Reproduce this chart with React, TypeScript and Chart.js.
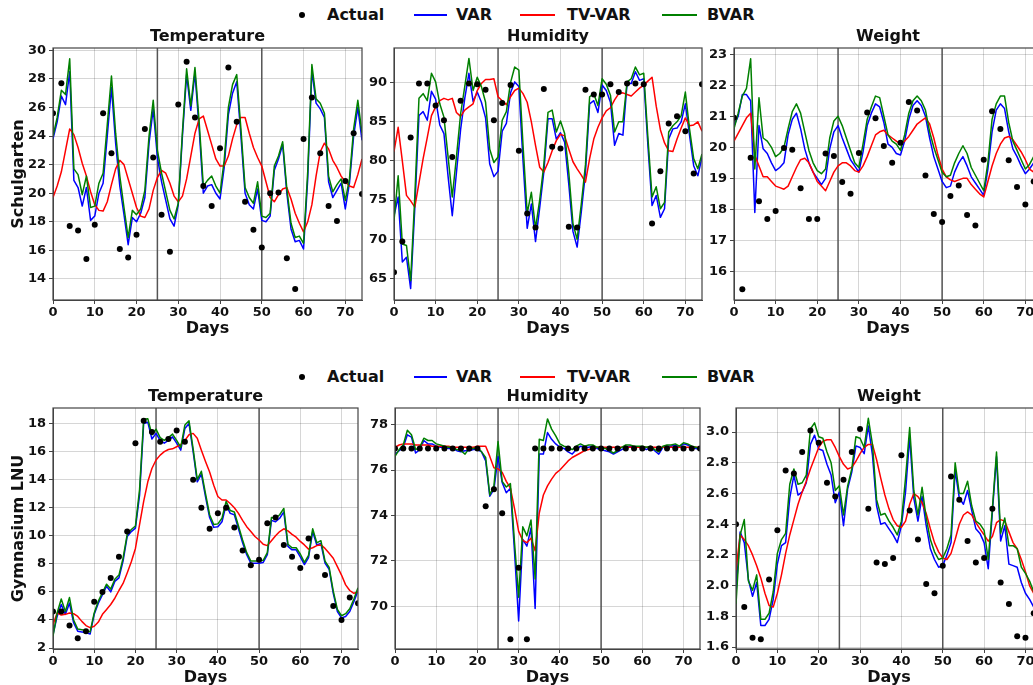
import React, { useEffect, useRef } from "react";
import { Chart, registerables } from "chart.js";

Chart.register(...registerables);

const FONT = "'DejaVu Sans', 'Liberation Sans', Arial, sans-serif";
const INK = "#111111";

// ---------- shared axes / categories ----------
const ACTUAL_DAYS = [0, 2, 4, 6, 8, 10, 12, 14, 16, 18, 20, 22, 24, 26, 28, 30, 32, 34, 36, 38, 40, 42, 44, 46, 48, 50, 52, 54, 56, 58, 60, 62, 64, 66, 68, 70, 72, 74];
const X_TICKS = [0, 10, 20, 30, 40, 50, 60, 70];
const SPLIT_DAYS = [25, 50];
const SERIES_NAMES = ["Actual", "VAR", "TV-VAR", "BVAR"];
const SERIES_COLORS = ["#000000", "#0000ff", "#ff0000", "#008000"];
const ROW_NAMES = ["Schulgarten", "Gymnasium LNU"];
const VAR_TITLES = ["Temperature", "Humidity", "Weight"];

// ---------- Schulgarten: Temperature ----------
const S_TEMP_TICKS = [14, 16, 18, 20, 22, 24, 26, 28, 30];
const S_TEMP_ACT = [25.6, 27.7, 17.7, 17.4, 15.4, 17.8, 25.6, 22.8, 16.1, 15.5, 17.1, 24.5, 22.5, 18.5, 15.9, 26.2, 29.2, 25.3, 20.5, 19.1, 23.15, 28.8, 25.0, 19.4, 17.45, 16.2, 20.0, 20.05, 15.45, 13.3, 23.8, 26.7, 22.8, 19.1, 18.05, 20.85, 24.2, 19.95];
const S_TEMP_VAR = [23.8, 25.0, 26.8, 26.2, 28.5, 20.9, 20.4, 19.1, 20.4, 18.1, 18.4, 20.0, 20.7, 24.0, 27.4, 23.5, 20.5, 18.5, 16.4, 18.3, 18.0, 18.6, 19.7, 23.5, 25.9, 22.5, 20.8, 19.5, 18.2, 17.7, 19.2, 24.0, 28.3, 25.8, 28.4, 24.5, 20.0, 20.5, 20.6, 20.0, 19.6, 21.8, 25.5, 27.0, 27.8, 24.0, 20.0, 19.2, 18.9, 20.3, 18.1, 18.0, 18.4, 21.6, 22.4, 23.4, 20.0, 17.5, 16.6, 16.7, 16.1, 21.0, 28.6, 26.3, 25.9, 25.3, 20.8, 19.7, 20.2, 20.7, 18.9, 20.7, 24.0, 26.0, 23.7];
const S_TEMP_TV = [19.7, 20.5, 21.5, 23.0, 24.5, 24.1, 23.2, 22.1, 21.2, 20.1, 19.2, 18.8, 18.75, 19.4, 20.6, 21.7, 22.3, 22.0, 21.0, 20.0, 19.0, 18.4, 18.3, 18.9, 20.2, 21.1, 21.6, 21.4, 20.7, 19.8, 19.4, 19.8, 21.0, 22.6, 24.2, 25.2, 25.4, 24.4, 23.4, 22.4, 21.9, 21.9, 22.6, 23.8, 24.8, 25.3, 25.3, 24.2, 23.2, 22.5, 21.9, 20.8, 19.7, 19.4, 19.9, 20.3, 20.4, 19.6, 18.6, 17.9, 17.3, 18.0, 19.2, 21.2, 22.9, 23.5, 23.1, 22.3, 21.8, 21.2, 20.8, 20.5, 20.4, 21.3, 22.4];
const S_TEMP_BVAR = [24.0, 25.3, 27.2, 26.9, 29.4, 21.7, 21.3, 19.9, 21.2, 19.0, 19.1, 20.7, 21.4, 24.8, 28.2, 24.2, 21.2, 19.0, 16.9, 18.8, 18.5, 18.9, 20.2, 24.0, 26.5, 23.0, 21.4, 20.1, 18.8, 18.2, 19.3, 24.3, 28.7, 26.1, 28.8, 25.0, 20.5, 20.9, 21.2, 20.5, 20.0, 22.3, 26.0, 27.6, 28.3, 24.5, 20.4, 19.7, 19.3, 20.8, 18.4, 18.3, 18.6, 21.9, 22.6, 23.6, 20.3, 17.9, 16.9, 17.0, 16.5, 21.5, 29.0, 26.6, 26.3, 25.6, 21.2, 20.1, 20.6, 21.0, 19.5, 21.0, 24.5, 26.5, 24.2];

// ---------- Schulgarten: Humidity ----------
const S_HUM_TICKS = [65, 70, 75, 80, 85, 90];
const S_HUM_ACT = [65.8, 69.7, 83.0, 89.9, 89.9, 87.1, 85.2, 80.5, 87.7, 89.9, 89.8, 89.1, 85.2, 87.4, 89.7, 81.3, 73.3, 71.5, 89.2, 81.8, 81.6, 71.6, 71.5, 89.1, 88.5, 88.5, 89.8, 88.8, 89.9, 89.9, 89.8, 72.0, 78.7, 84.8, 85.7, 83.8, 78.4, 89.8];
const S_HUM_VAR = [73.0, 75.4, 67.1, 67.7, 63.7, 74.0, 85.8, 86.3, 85.2, 88.9, 87.9, 84.6, 83.5, 78.0, 73.0, 78.5, 84.0, 88.0, 91.2, 87.6, 88.8, 87.5, 85.5, 79.6, 78.0, 78.7, 83.8, 84.8, 88.7, 90.1, 89.5, 80.0, 71.4, 74.5, 69.7, 74.0, 78.6, 85.4, 85.4, 82.8, 83.6, 82.4, 77.0, 71.0, 69.0, 73.5, 78.5, 87.3, 87.7, 86.2, 89.7, 89.0, 87.5, 82.0, 83.5, 83.3, 89.9, 89.9, 91.4, 90.3, 90.5, 82.0, 74.3, 75.6, 72.8, 73.9, 82.8, 84.1, 84.2, 85.0, 87.3, 83.3, 79.4, 78.1, 80.5];
const S_HUM_TV = [81.2, 84.3, 80.0, 75.6, 74.9, 74.1, 77.2, 80.3, 83.0, 85.8, 86.9, 87.7, 88.0, 87.8, 88.0, 86.2, 85.7, 86.5, 86.9, 87.3, 89.0, 89.9, 90.4, 90.4, 90.5, 88.2, 87.7, 87.2, 88.2, 89.0, 89.3, 88.6, 87.5, 85.0, 82.0, 79.2, 78.6, 79.8, 81.3, 82.6, 83.4, 83.2, 81.5, 79.9, 79.0, 78.2, 77.3, 80.3, 82.8, 84.3, 85.5, 86.4, 86.8, 87.8, 88.6, 88.7, 88.5, 88.3, 88.8, 89.3, 89.7, 90.2, 90.7, 87.0, 84.0, 82.3, 81.3, 81.2, 82.8, 84.2, 85.5, 84.5, 84.6, 85.0, 83.8];
const S_HUM_BVAR = [72.4, 78.1, 69.4, 69.2, 64.7, 75.5, 88.0, 88.6, 87.7, 91.2, 90.1, 87.3, 85.6, 80.5, 75.4, 80.5, 86.0, 89.5, 93.1, 89.0, 90.7, 89.5, 87.5, 81.5, 79.8, 80.5, 85.2, 86.3, 90.0, 92.0, 91.6, 82.0, 73.3, 76.0, 71.4, 75.0, 79.5, 86.2, 86.5, 83.7, 85.1, 83.5, 78.5, 72.0, 70.0, 74.5, 79.5, 88.2, 88.6, 87.1, 90.5, 89.8, 88.4, 83.7, 85.0, 85.0, 90.1, 90.5, 92.0, 91.0, 91.2, 83.0, 75.4, 76.7, 73.9, 74.7, 83.7, 84.5, 85.0, 85.8, 88.8, 84.1, 80.3, 79.0, 80.9];

// ---------- Schulgarten: Weight ----------
const S_W_TICKS = [16, 17, 18, 19, 20, 21, 22, 23];
const S_W_ACT = [20.95, 15.43, 19.66, 18.26, 17.69, 17.95, 19.98, 19.92, 18.68, 17.69, 17.69, 19.8, 19.72, 18.88, 18.5, 19.82, 21.12, 20.94, 20.04, 19.5, 20.15, 21.46, 21.19, 19.09, 17.85, 17.59, 18.43, 18.77, 17.82, 17.48, 19.6, 21.16, 20.59, 19.58, 18.72, 18.16, 18.9, 19.5];
const S_W_VAR = [20.7, 21.0, 21.7, 21.7, 21.5, 17.9, 20.7, 19.95, 19.8, 19.5, 19.25, 19.35, 19.5, 20.4, 20.9, 21.1, 20.6, 19.95, 19.5, 19.2, 19.0, 18.8, 19.0, 19.95, 20.5, 20.7, 20.3, 19.95, 19.6, 19.4, 19.2, 19.85, 20.7, 21.1, 21.4, 21.3, 20.8, 20.1, 20.0, 19.8, 19.75, 20.2, 20.9, 21.35, 21.5, 21.35, 21.0, 20.3, 19.7, 19.3, 18.9, 18.7, 18.75, 19.2, 19.5, 19.7, 19.4, 19.05, 18.85, 18.65, 18.45, 19.3, 20.5, 21.2, 21.4, 21.25, 20.5, 19.95, 19.7, 19.4, 19.15, 19.3, 19.5, 19.8, 20.0];
const S_W_TV = [20.2, 20.45, 20.7, 20.95, 21.1, 19.75, 19.4, 19.05, 19.05, 18.9, 18.75, 18.7, 18.65, 18.75, 19.05, 19.35, 19.6, 19.65, 19.5, 19.2, 18.9, 18.75, 18.6, 18.9, 19.2, 19.4, 19.5, 19.5, 19.4, 19.25, 19.2, 19.4, 19.7, 20.05, 20.4, 20.5, 20.55, 20.4, 20.3, 20.2, 20.1, 20.2, 20.35, 20.55, 20.75, 20.85, 20.95, 20.75, 20.3, 19.75, 19.3, 19.05, 18.95, 18.9, 18.95, 19.0, 19.0, 18.8, 18.65, 18.5, 18.4, 18.9, 19.4, 19.8, 20.1, 20.3, 20.35, 20.25, 20.05, 19.85, 19.6, 19.3, 19.2, 19.3, 19.5];
const S_W_BVAR = [20.6, 21.1, 21.65, 21.9, 22.85, 19.3, 21.6, 20.3, 20.2, 20.0, 19.7, 19.8, 20.0, 20.6, 21.15, 21.4, 21.1, 20.5, 19.9, 19.5, 19.25, 19.15, 19.3, 20.3, 20.85, 21.0, 20.7, 20.3, 19.9, 19.5, 19.35, 20.1, 20.9, 21.3, 21.65, 21.6, 21.0, 20.4, 20.2, 20.1, 19.9, 20.4, 21.1, 21.5, 21.65, 21.5, 21.2, 20.5, 20.0, 19.6, 19.2, 19.05, 19.1, 19.5, 19.8, 20.05, 19.8, 19.35, 19.1, 18.85, 18.6, 19.5, 20.9, 21.4, 21.65, 21.65, 20.8, 20.2, 19.9, 19.6, 19.3, 19.45, 19.7, 20.0, 20.2];

// ---------- Gymnasium LNU: Temperature ----------
const G_TEMP_TICKS = [2, 4, 6, 8, 10, 12, 14, 16, 18];
const G_TEMP_ACT = [4.6, 4.6, 3.6, 2.7, 3.2, 5.3, 6.0, 7.0, 8.5, 10.3, 16.6, 18.2, 17.4, 16.7, 16.9, 17.5, 16.7, 14.0, 12.0, 10.5, 11.6, 12.0, 10.6, 8.95, 7.9, 8.3, 10.9, 11.3, 9.35, 8.5, 7.7, 9.8, 8.5, 7.2, 5.0, 4.0, 5.6, 5.2];
const G_TEMP_VAR = [2.95, 4.25, 5.1, 4.4, 5.2, 3.8, 3.2, 3.15, 3.1, 3.0, 4.4, 5.2, 5.8, 6.4, 6.0, 6.75, 7.0, 8.2, 9.95, 10.3, 10.55, 12.9, 18.0, 18.1, 16.9, 17.3, 16.8, 16.6, 16.8, 17.05, 16.6, 16.1, 17.65, 18.0, 16.0, 13.85, 14.4, 12.8, 11.3, 10.6, 10.65, 11.0, 12.2, 11.6, 11.5, 10.5, 9.5, 8.65, 8.05, 8.05, 8.05, 8.1, 8.65, 11.1, 11.0, 11.25, 11.7, 9.25, 9.0, 9.0, 8.5, 7.95, 8.45, 10.3, 9.35, 9.45, 8.05, 7.6, 5.9, 4.6, 4.15, 4.25, 4.6, 5.3, 6.1];
const G_TEMP_TV = [3.65, 4.5, 4.35, 4.4, 4.5, 4.45, 4.25, 3.9, 3.6, 3.45, 3.55, 3.85, 4.4, 4.75, 5.1, 5.55, 6.1, 6.6, 7.35, 8.15, 9.1, 10.8, 12.45, 13.85, 14.8, 15.4, 15.75, 16.0, 16.15, 16.2, 16.35, 16.5, 16.8, 17.2, 17.3, 16.95, 16.1, 15.3, 14.55, 13.6, 12.8, 12.55, 12.55, 12.3, 12.0, 11.6, 11.1, 10.65, 10.3, 9.95, 9.7, 9.4, 9.3, 9.65, 10.0, 10.3, 10.5, 10.35, 10.1, 9.9, 9.6, 9.35, 9.05, 9.15, 9.3, 9.35, 9.1, 8.75, 8.4, 7.8, 7.2, 6.5, 6.1, 5.9, 6.0];
const G_TEMP_BVAR = [2.85, 4.5, 5.5, 4.6, 5.6, 4.0, 3.35, 3.3, 3.25, 3.15, 4.5, 5.35, 5.95, 6.55, 6.2, 6.9, 7.2, 8.4, 10.1, 10.45, 10.7, 13.3, 18.3, 18.35, 17.2, 17.6, 17.0, 16.8, 17.0, 17.25, 16.8, 16.3, 17.9, 18.2, 16.2, 14.0, 14.6, 13.0, 11.5, 10.8, 10.85, 11.25, 12.45, 11.8, 11.7, 10.7, 9.7, 8.8, 8.2, 8.2, 8.2, 8.25, 8.8, 11.3, 11.25, 11.5, 11.95, 9.4, 9.15, 9.15, 8.7, 8.1, 8.6, 10.5, 9.5, 9.65, 8.2, 7.75, 6.05, 4.75, 4.3, 4.45, 4.8, 5.5, 6.3];

// ---------- Gymnasium LNU: Humidity ----------
const G_HUM_TICKS = [70, 72, 74, 76, 78];
const G_HUM_ACT = [76.95, 76.95, 76.95, 76.95, 76.95, 76.95, 76.95, 76.95, 76.95, 76.95, 76.95, 74.4, 75.15, 74.1, 68.55, 71.7, 68.55, 76.95, 76.95, 76.95, 76.95, 76.95, 76.95, 76.95, 76.95, 76.95, 76.95, 76.95, 76.95, 76.95, 76.95, 76.95, 76.95, 76.95, 76.95, 76.95, 76.95, 76.95];
const G_HUM_VAR = [76.7, 76.85, 77.0, 77.55, 77.45, 76.75, 76.9, 77.3, 77.15, 77.15, 77.05, 77.0, 77.0, 76.95, 76.95, 76.85, 76.8, 76.85, 76.85, 76.9, 76.9, 76.8, 76.4, 74.85, 75.15, 76.6, 75.45, 75.0, 75.2, 72.4, 69.35, 72.95, 72.65, 73.45, 69.9, 76.7, 76.7, 77.65, 77.35, 77.15, 77.0, 76.95, 76.8, 76.7, 76.9, 77.05, 77.0, 77.0, 77.05, 76.95, 76.9, 76.85, 76.8, 76.7, 76.8, 76.9, 77.0, 77.05, 77.0, 77.0, 77.0, 76.9, 77.0, 76.85, 76.7, 77.0, 77.05, 77.05, 77.1, 77.0, 77.15, 77.1, 77.0, 76.95, 76.9];
const G_HUM_TV = [77.0, 77.1, 77.15, 77.15, 77.15, 77.1, 77.1, 77.1, 77.1, 77.05, 77.05, 77.05, 77.05, 77.05, 77.0, 77.0, 77.0, 77.0, 77.0, 77.0, 77.05, 77.05, 77.05, 76.6, 76.1, 76.05, 75.9, 75.5, 75.2, 74.3, 73.3, 72.9, 72.8, 73.0, 72.45, 74.1, 74.9, 75.3, 75.6, 75.85, 76.0, 76.2, 76.4, 76.55, 76.65, 76.75, 76.85, 76.9, 76.95, 77.0, 77.0, 77.0, 77.0, 77.0, 77.0, 77.0, 77.0, 77.0, 77.0, 77.0, 77.0, 77.0, 77.0, 77.0, 77.0, 77.0, 77.0, 77.0, 77.0, 77.0, 77.0, 77.0, 77.0, 77.0, 77.0];
const G_HUM_BVAR = [76.6, 76.9, 77.1, 77.75, 77.55, 76.9, 77.0, 77.4, 77.3, 77.3, 77.15, 77.1, 77.05, 77.0, 77.0, 76.9, 76.85, 76.7, 76.95, 76.95, 77.0, 76.8, 76.55, 74.9, 75.3, 77.25, 75.5, 75.25, 75.4, 72.8, 70.4, 73.5, 73.1, 73.8, 71.2, 77.35, 77.3, 78.25, 77.8, 77.5, 77.15, 77.05, 77.0, 76.9, 77.05, 77.15, 77.05, 77.1, 77.1, 77.0, 77.0, 76.95, 76.85, 76.75, 76.85, 77.0, 77.1, 77.1, 77.05, 77.05, 77.05, 77.0, 77.05, 76.9, 76.8, 77.05, 77.1, 77.1, 77.15, 77.05, 77.2, 77.15, 77.05, 77.0, 76.95];

// ---------- Gymnasium LNU: Weight ----------
const G_W_TICKS = [1.6, 1.8, 2.0, 2.2, 2.4, 2.6, 2.8, 3.0];
const G_W_ACT = [2.40, 1.86, 1.66, 1.65, 2.04, 2.36, 2.75, 2.73, 2.87, 3.01, 2.93, 2.67, 2.58, 2.69, 2.87, 3.02, 2.50, 2.15, 2.14, 2.18, 2.85, 2.49, 2.30, 2.01, 1.95, 2.13, 2.71, 2.56, 2.29, 2.15, 2.18, 2.50, 2.02, 1.88, 1.67, 1.66, 1.82, 1.75];
const G_W_VAR = [1.95, 2.35, 2.28, 2.04, 1.93, 2.02, 1.74, 1.74, 1.78, 1.91, 2.14, 2.26, 2.28, 2.57, 2.72, 2.59, 2.61, 2.67, 2.92, 2.98, 2.89, 2.88, 2.79, 2.72, 2.54, 2.61, 2.39, 2.63, 2.74, 2.91, 2.90, 2.86, 3.04, 2.85, 2.52, 2.40, 2.41, 2.37, 2.33, 2.28, 2.39, 2.61, 2.97, 2.57, 2.42, 2.58, 2.39, 2.24, 2.17, 2.12, 2.13, 2.20, 2.28, 2.75, 2.57, 2.53, 2.62, 2.49, 2.37, 2.34, 2.28, 2.11, 2.48, 2.84, 2.29, 2.39, 2.14, 2.13, 2.12, 2.02, 1.95, 1.91, 1.86, 1.84, 1.82];
const G_W_TV = [2.10, 2.33, 2.30, 2.26, 2.20, 2.13, 2.05, 1.95, 1.87, 1.86, 1.95, 2.07, 2.21, 2.33, 2.43, 2.53, 2.61, 2.68, 2.76, 2.83, 2.90, 2.94, 2.95, 2.95, 2.90, 2.84, 2.79, 2.76, 2.77, 2.81, 2.86, 2.90, 2.92, 2.92, 2.82, 2.70, 2.59, 2.50, 2.43, 2.39, 2.38, 2.42, 2.53, 2.60, 2.58, 2.54, 2.47, 2.37, 2.28, 2.22, 2.18, 2.17, 2.21, 2.30, 2.40, 2.46, 2.48, 2.46, 2.41, 2.37, 2.33, 2.29, 2.32, 2.41, 2.43, 2.42, 2.35, 2.28, 2.24, 2.17, 2.09, 2.00, 1.95, 1.93, 1.91];
const G_W_BVAR = [1.88, 2.33, 2.43, 2.03, 1.97, 2.07, 1.78, 1.78, 1.82, 1.96, 2.21, 2.30, 2.34, 2.66, 2.76, 2.66, 2.67, 2.72, 3.02, 3.06, 2.97, 2.96, 2.87, 2.80, 2.62, 2.65, 2.46, 2.65, 2.76, 2.97, 2.96, 2.90, 3.09, 2.92, 2.56, 2.46, 2.47, 2.42, 2.38, 2.33, 2.42, 2.70, 3.03, 2.62, 2.46, 2.64, 2.44, 2.30, 2.22, 2.17, 2.18, 2.24, 2.33, 2.80, 2.60, 2.60, 2.68, 2.52, 2.42, 2.40, 2.36, 2.17, 2.50, 2.87, 2.34, 2.44, 2.26, 2.26, 2.24, 2.12, 2.08, 2.03, 1.96, 1.93, 1.92];

type PanelCfg = {
  title: string; yLabel: string | null; ticks: number[]; dec: number; yMin: number; yMax: number;
  act: number[]; vr: number[]; tv: number[]; bv: number[];
  left: number; top: number; w: number; h: number; yW: number; padR: number;
};

const PANELS: PanelCfg[] = [
  { title: VAR_TITLES[0], yLabel: ROW_NAMES[0], ticks: S_TEMP_TICKS, dec: 0, yMin: 12.53, yMax: 30.16, act: S_TEMP_ACT, vr: S_TEMP_VAR, tv: S_TEMP_TV, bv: S_TEMP_BVAR, left: 0, top: 26, w: 370, h: 314, yW: 53, padR: 8 },
  { title: VAR_TITLES[1], yLabel: null, ticks: S_HUM_TICKS, dec: 0, yMin: 62.24, yMax: 94.43, act: S_HUM_ACT, vr: S_HUM_VAR, tv: S_HUM_TV, bv: S_HUM_BVAR, left: 365, top: 26, w: 345, h: 314, yW: 29, padR: 8 },
  { title: VAR_TITLES[2], yLabel: null, ticks: S_W_TICKS, dec: 0, yMin: 15.08, yMax: 23.2, act: S_W_ACT, vr: S_W_VAR, tv: S_W_TV, bv: S_W_BVAR, left: 705, top: 26, w: 345, h: 314, yW: 29, padR: 8 },
  { title: VAR_TITLES[0], yLabel: ROW_NAMES[1], ticks: G_TEMP_TICKS, dec: 0, yMin: 1.93, yMax: 19.11, act: G_TEMP_ACT, vr: G_TEMP_VAR, tv: G_TEMP_TV, bv: G_TEMP_BVAR, left: 0, top: 386, w: 366, h: 303, yW: 53, padR: 8 },
  { title: VAR_TITLES[1], yLabel: null, ticks: G_HUM_TICKS, dec: 0, yMin: 68.12, yMax: 78.73, act: G_HUM_ACT, vr: G_HUM_VAR, tv: G_HUM_TV, bv: G_HUM_BVAR, left: 365, top: 386, w: 345, h: 303, yW: 30, padR: 10 },
  { title: VAR_TITLES[2], yLabel: null, ticks: G_W_TICKS, dec: 1, yMin: 1.587, yMax: 3.157, act: G_W_ACT, vr: G_W_VAR, tv: G_W_TV, bv: G_W_BVAR, left: 705, top: 386, w: 345, h: 303, yW: 31, padR: 8 },
];

const framePlugin = {
  id: "frameAndSplits",
  beforeDatasetsDraw(chart: any) {
    const { ctx, chartArea: a, scales } = chart;
    ctx.save();
    ctx.strokeStyle = "#555555";
    ctx.lineWidth = 1.5;
    SPLIT_DAYS.forEach((d) => {
      const x = scales.x.getPixelForValue(d);
      ctx.beginPath();
      ctx.moveTo(x, a.top);
      ctx.lineTo(x, a.bottom);
      ctx.stroke();
    });
    ctx.restore();
  },
  afterDatasetsDraw(chart: any) {
    const { ctx, chartArea: a } = chart;
    ctx.save();
    ctx.strokeStyle = "#444444";
    ctx.lineWidth = 1.2;
    ctx.strokeRect(a.left, a.top, a.right - a.left, a.bottom - a.top);
    ctx.restore();
  },
};

function Panel({ p }: { p: PanelCfg }) {
  const ref = useRef<HTMLCanvasElement | null>(null);
  useEffect(() => {
    if (!ref.current) return;
    const lineDs = (label: string, color: string, vals: number[], order: number) => ({
      label,
      data: vals.map((y, i) => ({ x: i, y })),
      borderColor: color,
      backgroundColor: color,
      borderWidth: 1.5,
      pointRadius: 0,
      pointHoverRadius: 0,
      tension: 0,
      borderJoinStyle: "round" as const,
      order,
    });
    const tickFont = { family: FONT, size: 13, weight: "bold" as const };
    const labelFont = { family: FONT, size: 16, weight: "bold" as const };
    const chart = new Chart(ref.current, {
      type: "line",
      data: {
        datasets: [
          {
            label: SERIES_NAMES[0],
            data: ACTUAL_DAYS.map((d, i) => ({ x: d, y: p.act[i] })),
            showLine: false,
            pointRadius: 3,
            pointHoverRadius: 3,
            pointBackgroundColor: SERIES_COLORS[0],
            pointBorderWidth: 0,
            borderColor: SERIES_COLORS[0],
            order: 0,
          } as any,
          lineDs(SERIES_NAMES[3], SERIES_COLORS[3], p.bv, 1),
          lineDs(SERIES_NAMES[2], SERIES_COLORS[2], p.tv, 2),
          lineDs(SERIES_NAMES[1], SERIES_COLORS[1], p.vr, 3),
        ],
      },
      options: {
        animation: false,
        responsive: false,
        devicePixelRatio: 1,
        events: [],
        layout: { padding: { left: 0, right: p.padR, top: 0, bottom: 0 } },
        plugins: {
          legend: { display: false },
          tooltip: { enabled: false },
          title: {
            display: true,
            text: p.title,
            fullSize: false,
            color: INK,
            font: labelFont,
            padding: { top: 1.4, bottom: 1.4 },
          },
        },
        scales: {
          x: {
            type: "linear",
            min: 0,
            max: 74,
            afterBuildTicks: (s: any) => {
              s.ticks = X_TICKS.map((v) => ({ value: v }));
            },
            afterFit: (s: any) => {
              s.height = 40;
            },
            ticks: { font: tickFont, color: INK, padding: 1, maxRotation: 0, autoSkip: false, callback: (v: any) => String(v) },
            grid: { color: "rgba(0,0,0,0.16)", lineWidth: 1, tickColor: "#444", tickLength: 4 },
            border: { display: true, color: "#444" },
            title: { display: true, text: "Days", color: INK, font: labelFont, padding: { top: 0, bottom: 2 } },
          },
          y: {
            type: "linear",
            min: p.yMin,
            max: p.yMax,
            afterBuildTicks: (s: any) => {
              s.ticks = p.ticks.map((v) => ({ value: v }));
            },
            afterFit: (s: any) => {
              s.width = p.yW;
            },
            ticks: { font: tickFont, color: INK, padding: 3, autoSkip: false, callback: (v: any) => Number(v).toFixed(p.dec) },
            grid: { color: "rgba(0,0,0,0.16)", lineWidth: 1, tickColor: "#444", tickLength: 4 },
            border: { display: true, color: "#444" },
            title: p.yLabel
              ? { display: true, text: p.yLabel, color: INK, font: labelFont, padding: { top: 9, bottom: 0 } }
              : { display: false },
          },
        },
      } as any,
      plugins: [framePlugin],
    });
    return () => chart.destroy();
  }, [p]);
  return (
    <canvas
      ref={ref}
      width={p.w}
      height={p.h}
      style={{ position: "absolute", left: p.left, top: p.top, width: p.w, height: p.h }}
    />
  );
}

const LEGEND_X = { dot: 302, actualText: 327, varLine: [414, 447], varText: 456, tvLine: [520, 555], tvText: 567, bvLine: [662, 697], bvText: 707 };

function Legend({ cy }: { cy: number }) {
  const text = (x: number, s: string) => (
    <div
      style={{
        position: "absolute",
        left: x,
        top: cy - 10,
        height: 20,
        lineHeight: "20px",
        font: `bold 16px ${FONT}`,
        color: INK,
        whiteSpace: "nowrap",
      }}
    >
      {s}
    </div>
  );
  const line = (x: number[], color: string) => (
    <div style={{ position: "absolute", left: x[0], top: cy - 1, width: x[1] - x[0], height: 2, background: color }} />
  );
  return (
    <>
      <div
        style={{
          position: "absolute",
          left: LEGEND_X.dot - 3,
          top: cy - 3,
          width: 6,
          height: 6,
          borderRadius: 3,
          background: SERIES_COLORS[0],
        }}
      />
      {text(LEGEND_X.actualText, SERIES_NAMES[0])}
      {line(LEGEND_X.varLine, SERIES_COLORS[1])}
      {text(LEGEND_X.varText, SERIES_NAMES[1])}
      {line(LEGEND_X.tvLine, SERIES_COLORS[2])}
      {text(LEGEND_X.tvText, SERIES_NAMES[2])}
      {line(LEGEND_X.bvLine, SERIES_COLORS[3])}
      {text(LEGEND_X.bvText, SERIES_NAMES[3])}
    </>
  );
}

export default function App() {
  return (
    <div
      style={{
        position: "fixed",
        left: 0,
        top: 0,
        width: 1033,
        height: 685,
        overflow: "hidden",
        background: "#ffffff",
      }}
    >
      <Legend cy={15} />
      <Legend cy={377} />
      {PANELS.map((p, i) => (
        <Panel key={i} p={p} />
      ))}
    </div>
  );
}
